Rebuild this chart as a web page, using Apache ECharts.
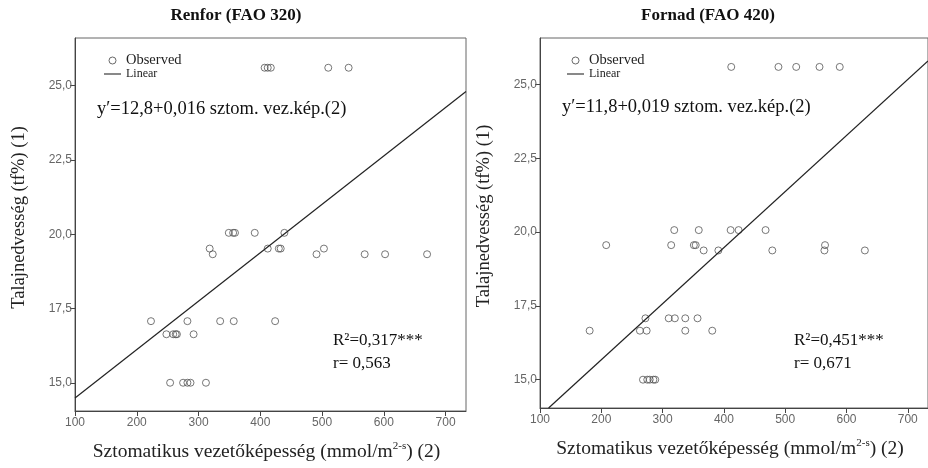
<!DOCTYPE html>
<html>
<head>
<meta charset="utf-8">
<title>Renfor / Fornad</title>
<script src="https://cdn.jsdelivr.net/npm/echarts@6/dist/echarts.min.js"></script>
<style>
  html, body { margin: 0; padding: 0; background: #fff; }
  #chart { width: 928px; height: 468px; }
</style>
</head>
<body>
<div id="chart"></div>
<script>
// tick labels
const xTicks = [100, 200, 300, 400, 500, 600, 700]
const yTicks = [15, 17.5, 20, 22.5, 25]

// Renfor (FAO 320) - [stomatal conductance, soil moisture]
const renforObserved = [
  [407, 25.6], [412, 25.6], [417, 25.6], [510, 25.6], [543, 25.6],
  [349, 20.05], [356, 20.05], [359, 20.05], [391, 20.05], [439, 20.05],
  [318, 19.52], [412, 19.52], [430, 19.52], [433, 19.52], [503, 19.52],
  [323, 19.33], [491, 19.33], [569, 19.33], [602, 19.33], [670, 19.33],
  [223, 17.08], [282, 17.08], [335, 17.08], [357, 17.08], [424, 17.08],
  [248, 16.64], [259, 16.64], [263, 16.64], [265, 16.64], [292, 16.64],
  [254, 15.01], [275, 15.01], [282, 15.01], [287, 15.01], [312, 15.01]
]
const renforLinear = [[100, 14.5], [733, 24.8]]

// Fornad (FAO 420)
const fornadObserved = [
  [412, 25.6], [489, 25.6], [518, 25.6], [556, 25.6], [589, 25.6],
  [319, 20.07], [359, 20.07], [411, 20.07], [424, 20.07], [468, 20.07],
  [208, 19.56], [314, 19.56], [351, 19.56], [354, 19.56], [565, 19.56],
  [367, 19.38], [391, 19.38], [479, 19.38], [564, 19.38], [630, 19.38],
  [272, 17.08], [310, 17.08], [320, 17.08], [337, 17.08], [357, 17.08],
  [181, 16.66], [263, 16.66], [274, 16.66], [337, 16.66], [381, 16.66],
  [268, 15.0], [275, 15.0], [279, 15.0], [285, 15.0], [288, 15.0]
]
const fornadLinear = [[114, 14.04], [733, 25.8]]

const serif = 'Liberation Serif'
const ink = '#222'

const xName = 'Sztomatikus vezetőképesség (mmol/m{sup|2-s}) (2)'
const yName = 'Talajnedvesség (tf%) (1)'

function xAxisFor(grid) {
  return {
    type: 'value',
    gridIndex: grid,
    min: 100,
    max: 733,
    name: xName,
    nameLocation: 'middle',
    nameGap: 30,
    nameTextStyle: {
      fontFamily: serif,
      fontSize: 19.5,
      color: ink,
      lineHeight: 22,
      padding: [0, 8, 0, 0],
      rich: {
        sup: { fontFamily: serif, fontSize: 11, verticalAlign: 'top', lineHeight: 11, color: ink }
      }
    },
    splitLine: { show: false },
    axisLine: { lineStyle: { color: '#444' } },
    axisTick: { length: 5, lineStyle: { color: '#444' }, customValues: xTicks },
    axisLabel: {
      customValues: xTicks,
      color: '#666',
      fontFamily: 'Liberation Sans',
      fontSize: 12,
      margin: 6
    }
  }
}

function yAxisFor(grid, min, max) {
  return {
    type: 'value',
    gridIndex: grid,
    min: min,
    max: max,
    name: yName,
    nameLocation: 'middle',
    nameGap: 46,
    nameTextStyle: { fontFamily: serif, fontSize: 18.5, color: ink, padding: [0, 0, 0, 14] },
    splitLine: { show: false },
    axisLine: { show: true, lineStyle: { color: '#444' } },
    axisTick: { show: true, length: 5, lineStyle: { color: '#444' }, customValues: yTicks },
    axisLabel: {
      customValues: yTicks,
      color: '#666',
      fontFamily: 'Liberation Sans',
      fontSize: 12,
      margin: 3,
      formatter: (v) => v.toFixed(1).replace('.', ',')
    }
  }
}

function legendAt(left) {
  return {
    orient: 'vertical',
    left: left,
    top: 48,
    itemWidth: 17,
    itemHeight: 7,
    itemGap: 0,
    textStyle: { fontFamily: serif, color: ink },
    data: [
      {
        name: 'Observed',
        icon: 'circle',
        itemStyle: { color: 'rgba(0,0,0,0)', borderColor: '#444', borderWidth: 1 },
        textStyle: { fontSize: 14.5 }
      },
      {
        name: 'Linear',
        icon: 'path://M0,0H24V1.4H0Z',
        itemStyle: { color: '#111' },
        textStyle: { fontSize: 12 }
      }
    ]
  }
}

function scatterSeries(idx, data) {
  return {
    name: 'Observed',
    type: 'scatter',
    xAxisIndex: idx,
    yAxisIndex: idx,
    data: data,
    symbol: 'circle',
    symbolSize: 7,
    itemStyle: { color: 'rgba(0,0,0,0)', borderColor: '#555', borderWidth: 1 },
    emphasis: { disabled: true }
  }
}

function lineSeries(idx, data) {
  return {
    name: 'Linear',
    type: 'line',
    xAxisIndex: idx,
    yAxisIndex: idx,
    data: data,
    showSymbol: false,
    lineStyle: { color: ink, width: 1.2 },
    itemStyle: { color: ink },
    emphasis: { disabled: true }
  }
}

function note(left, top, text, size) {
  return {
    type: 'text',
    left: left,
    top: top,
    style: { text: text, font: size + 'px "Liberation Serif"', fill: '#111' }
  }
}

const chart = echarts.init(document.getElementById('chart'))
chart.setOption({
  animation: false,
  title: [
    {
      text: 'Renfor (FAO 320)',
      left: 231,
      top: 2,
      textAlign: 'center',
      textStyle: { fontFamily: serif, fontWeight: 'bold', fontSize: 17, color: '#111' }
    },
    {
      text: 'Fornad (FAO 420)',
      left: 703,
      top: 2,
      textAlign: 'center',
      textStyle: { fontFamily: serif, fontWeight: 'bold', fontSize: 17, color: '#111' }
    }
  ],
  legend: [legendAt(99), legendAt(562)],
  grid: [
    { left: 75, top: 38, width: 391, height: 374, show: true, borderColor: '#666', borderWidth: 1 },
    { left: 540, top: 38, width: 390, height: 370, show: true, borderColor: '#666', borderWidth: 1 }
  ],
  xAxis: [xAxisFor(0), xAxisFor(1)],
  yAxis: [yAxisFor(0, 14.06, 26.6), yAxisFor(1, 14.04, 26.58)],
  series: [
    scatterSeries(0, renforObserved),
    lineSeries(0, renforLinear),
    scatterSeries(1, fornadObserved),
    lineSeries(1, fornadLinear)
  ],
  graphic: [
    note(97, 100, 'y′=12,8+0,016 sztom. vez.kép.(2)', 18.5),
    note(333, 332, 'R²=0,317***', 17),
    note(333, 355, 'r= 0,563', 17),
    note(562, 98, 'y′=11,8+0,019 sztom. vez.kép.(2)', 18.5),
    note(794, 332, 'R²=0,451***', 17),
    note(794, 355, 'r= 0,671', 17)
  ]
})
</script>
</body>
</html>
